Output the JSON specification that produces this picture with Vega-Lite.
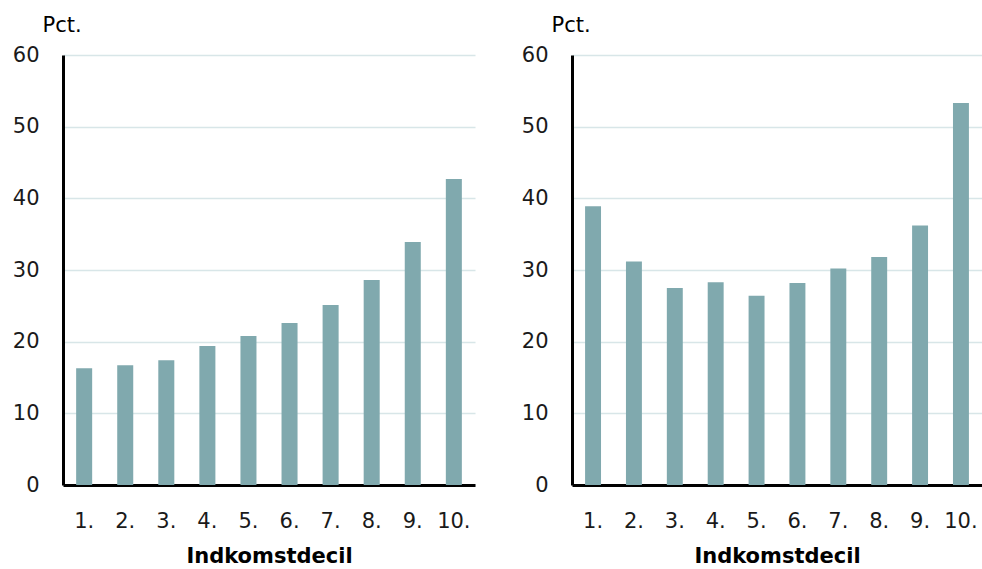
{
  "$schema": "https://vega.github.io/schema/vega-lite/v6.json",
  "background": "white",
  "padding": {"left": 12, "top": 14, "right": 0, "bottom": 0},
  "spacing": 46,
  "config": {
    "view": {"stroke": null},
    "font": "DejaVu Sans",
    "axis": {
      "labelFont": "DejaVu Sans", "titleFont": "DejaVu Sans", "labelFontSize": 21, "titleFontSize": 21,
      "labelColor": "#1a1a1a", "titleColor": "#000000", "labelFontWeight": "normal"
    }
  },
  "datasets": {
    "d": [
      {"panel": "A", "decil": "1.", "value": 16.3},
      {"panel": "A", "decil": "2.", "value": 16.7},
      {"panel": "A", "decil": "3.", "value": 17.4},
      {"panel": "A", "decil": "4.", "value": 19.4},
      {"panel": "A", "decil": "5.", "value": 20.8},
      {"panel": "A", "decil": "6.", "value": 22.6},
      {"panel": "A", "decil": "7.", "value": 25.1},
      {"panel": "A", "decil": "8.", "value": 28.6},
      {"panel": "A", "decil": "9.", "value": 33.9},
      {"panel": "A", "decil": "10.", "value": 42.7},
      {"panel": "B", "decil": "1.", "value": 38.9},
      {"panel": "B", "decil": "2.", "value": 31.2},
      {"panel": "B", "decil": "3.", "value": 27.5},
      {"panel": "B", "decil": "4.", "value": 28.3},
      {"panel": "B", "decil": "5.", "value": 26.4},
      {"panel": "B", "decil": "6.", "value": 28.2},
      {"panel": "B", "decil": "7.", "value": 30.2},
      {"panel": "B", "decil": "8.", "value": 31.8},
      {"panel": "B", "decil": "9.", "value": 36.2},
      {"panel": "B", "decil": "10.", "value": 53.3}
    ]
  },
  "hconcat": [
    {
      "width": 412, "height": 430,
      "data": {"name": "d"},
      "transform": [{"filter": "datum.panel === 'A'"}],
      "mark": {"type": "bar", "color": "#80a9ae"},
      "encoding": {
        "x": {
          "field": "decil", "type": "nominal",
          "sort": ["1.", "2.", "3.", "4.", "5.", "6.", "7.", "8.", "9.", "10."],
          "scale": {"paddingInner": 0.61, "paddingOuter": 0.32},
          "axis": {"title": "Indkomstdecil", "titleFontWeight": "bold", "labelAngle": 0, "ticks": false, "labelPadding": 25, "titlePadding": 14, "domainColor": "#000000", "domainWidth": 3, "labelBaseline": "top"}
        },
        "y": {
          "field": "value", "type": "quantitative",
          "scale": {"domain": [0, 60]},
          "axis": {"title": "Pct.", "titleAngle": 0, "titleAlign": "left", "titleBaseline": "alphabetic", "titleX": -21, "titleY": -24, "titleFontWeight": "normal", "values": [0, 10, 20, 30, 40, 50, 60], "ticks": false, "labelPadding": 24, "domainColor": "#000000", "domainWidth": 3, "gridColor": "#d8e6e8", "gridWidth": 1.5}
        }
      }
    },
    {
      "width": 410, "height": 430,
      "data": {"name": "d"},
      "transform": [{"filter": "datum.panel === 'B'"}],
      "mark": {"type": "bar", "color": "#80a9ae"},
      "encoding": {
        "x": {
          "field": "decil", "type": "nominal",
          "sort": ["1.", "2.", "3.", "4.", "5.", "6.", "7.", "8.", "9.", "10."],
          "scale": {"paddingInner": 0.61, "paddingOuter": 0.32},
          "axis": {"title": "Indkomstdecil", "titleFontWeight": "bold", "labelAngle": 0, "ticks": false, "labelPadding": 25, "titlePadding": 14, "domainColor": "#000000", "domainWidth": 3, "labelBaseline": "top"}
        },
        "y": {
          "field": "value", "type": "quantitative",
          "scale": {"domain": [0, 60]},
          "axis": {"title": "Pct.", "titleAngle": 0, "titleAlign": "left", "titleBaseline": "alphabetic", "titleX": -21, "titleY": -24, "titleFontWeight": "normal", "values": [0, 10, 20, 30, 40, 50, 60], "ticks": false, "labelPadding": 24, "domainColor": "#000000", "domainWidth": 3, "gridColor": "#d8e6e8", "gridWidth": 1.5}
        }
      }
    }
  ]
}
